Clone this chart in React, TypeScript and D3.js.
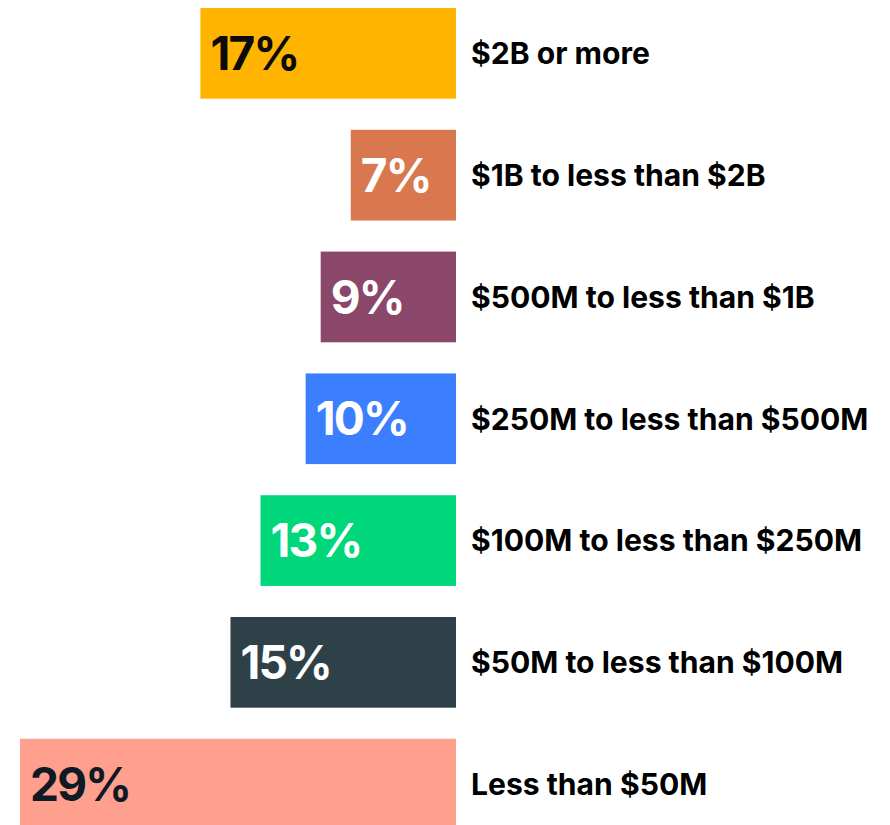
import React from "react";
import * as d3 from "d3";

const categories = [
  "$2B or more",
  "$1B to less than $2B",
  "$500M to less than $1B",
  "$250M to less than $500M",
  "$100M to less than $250M",
  "$50M to less than $100M",
  "Less than $50M",
];
const values = [17, 7, 9, 10, 13, 15, 29];
const barColors = ["#FFB500", "#D9784E", "#8B476A", "#3B7FFF", "#00D67A", "#2E4149", "#FF9F8E"];
const valueTextColors = ["#0b0b0b", "#ffffff", "#ffffff", "#ffffff", "#ffffff", "#ffffff", "#0f1a24"];

const W = 890;
const H = 825;

export default function App() {
  const x = d3.scaleLinear().domain([0, 29]).range([456, 20]);
  const y = d3
    .scaleBand<string>()
    .domain(categories)
    .range([8, 829.5])
    .paddingInner(0.2553)
    .paddingOuter(0);
  const bw = y.bandwidth();
  return (
    <svg
      width={W}
      height={H}
      style={{ position: "absolute", left: 0, top: 0, display: "block" }}
      fontFamily="Inter, 'Noto Sans', sans-serif"
    >
      <rect x={0} y={0} width={W} height={H} fill="#ffffff" />
      {categories.map((c, i) => {
        const y0 = y(c) as number;
        const x0 = x(values[i]);
        return (
          <g key={c}>
            <rect x={x0} y={y0} width={x(0) - x0} height={bw} fill={barColors[i]} />
            <text
              x={x0 + 10}
              y={y0 + bw / 2}
              dy="0.36em"
              fontSize={46}
              fontWeight={700}
              letterSpacing={-1.8}
              fill={valueTextColors[i]}
            >
              {values[i]}%
            </text>
            <text
              x={471}
              y={y0 + bw / 2}
              dy="0.36em"
              fontSize={30.1}
              fontWeight={700}
              fill="#000000"
            >
              {c}
            </text>
          </g>
        );
      })}
    </svg>
  );
}
